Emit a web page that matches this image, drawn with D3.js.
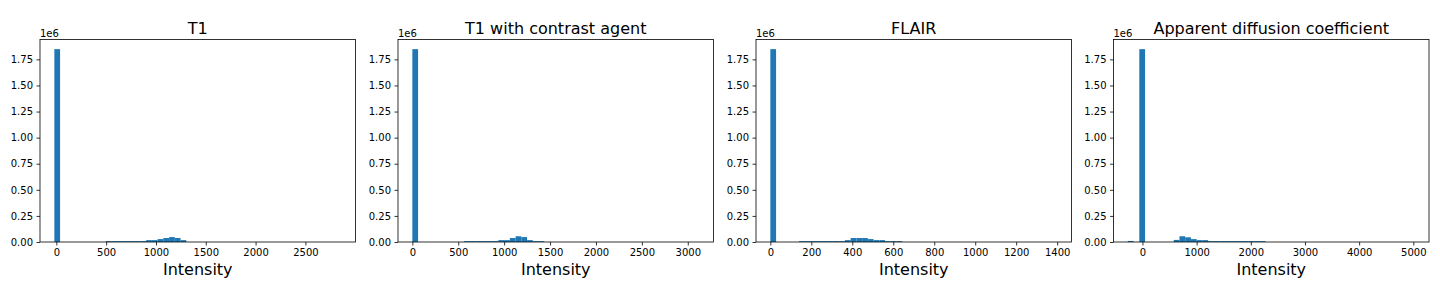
<!DOCTYPE html>
<html>
<head>
<meta charset="utf-8">
<script src="https://cdn.jsdelivr.net/npm/d3@7"></script>
<style>
  body { margin: 0; background: #fff; }
  text { font-family: "DejaVu Sans", sans-serif; fill: #000; }
</style>
</head>
<body>
<div id="container"></div>
<script>
// window size
let cwW = 1440;
let cwH = 288;

// panel titles
const titles = ["T1", "T1 with contrast agent", "FLAIR", "Apparent diffusion coefficient"];

// min / max intensity of each image (histograms use 50 bins over this range)
const dataRanges = [[-20, 2859], [0, 3124], [0, 1400], [-270, 5025]];
const binCount = 50;

// non-empty bins: bin index and count (in 1e6 voxels)
const t1Bins    = [0, 9, 10, 11, 12, 13, 14, 15, 16, 17, 18, 19, 20, 21, 22];
const t1Counts  = [1.848, 0.008, 0.008, 0.008, 0.008, 0.008, 0.008, 0.008, 0.018, 0.018, 0.028, 0.038, 0.047, 0.038, 0.018];

const t1cBins   = [0, 9, 10, 11, 12, 13, 14, 15, 16, 17, 18, 19, 20, 21, 22];
const t1cCounts = [1.848, 0.008, 0.008, 0.008, 0.008, 0.008, 0.008, 0.018, 0.018, 0.038, 0.055, 0.047, 0.018, 0.008, 0.008];

const flairBins   = [0, 5, 6, 7, 8, 9, 10, 11, 12, 13, 14, 15, 16, 17, 18, 19, 20, 21, 22];
const flairCounts = [1.848, 0.008, 0.008, 0.008, 0.008, 0.008, 0.008, 0.008, 0.008, 0.018, 0.038, 0.038, 0.038, 0.028, 0.018, 0.018, 0.008, 0.008, 0.008];

const adcBins   = [0, 2, 8, 9, 10, 11, 12, 13, 14, 15, 16, 17, 18, 19, 20, 21, 22, 23];
const adcCounts = [0.010, 1.848, 0.020, 0.055, 0.045, 0.028, 0.018, 0.018, 0.008, 0.008, 0.008, 0.008, 0.008, 0.008, 0.008, 0.008, 0.008, 0.008];

// tick labels
const xTicks = [
  [0, 500, 1000, 1500, 2000, 2500],
  [0, 500, 1000, 1500, 2000, 2500, 3000],
  [0, 200, 400, 600, 800, 1000, 1200, 1400],
  [0, 1000, 2000, 3000, 4000, 5000]
];
const yTicks = [0, 0.25, 0.5, 0.75, 1.0, 1.25, 1.5, 1.75];

const binSets = [t1Bins, t1cBins, flairBins, adcBins];
const countSets = [t1Counts, t1cCounts, flairCounts, adcCounts];

// layout
const panelLeft = [40, 398, 756, 1113.5];
const panelW = 315.5;
const panelTop = 39.5;
const panelH = 202.5;
const barColor = "#1f77b4";

let svgArea = d3.select("#container")
  .append("svg")
  .attr("width", cwW)
  .attr("height", cwH);

const yMax = d3.max(countSets, c => d3.max(c)) * 1.05;

/**************************
* Draw one histogram
**************************/
function drawPanel(p) {
  let [lo, hi] = dataRanges[p];
  let binW = (hi - lo) / binCount;
  let pad = (hi - lo) * 0.05;

  let g = svgArea.append("g")
    .attr("transform", "translate(" + panelLeft[p] + "," + panelTop + ")");

  let x = d3.scaleLinear().domain([lo - pad, hi + pad]).range([0, panelW]);
  let y = d3.scaleLinear().domain([0, yMax]).range([panelH, 0]);

  let bars = binSets[p].map((b, i) => ({x0: lo + b * binW, x1: lo + (b + 1) * binW, n: countSets[p][i]}));

  g.selectAll("rect.bar")
    .data(bars)
    .enter()
    .append("rect")
    .attr("class", "bar")
    .attr("x", d => x(d.x0))
    .attr("width", d => x(d.x1) - x(d.x0))
    .attr("y", d => y(d.n))
    .attr("height", d => y(0) - y(d.n))
    .attr("fill", barColor);

  // axes
  let xAxis = d3.axisBottom(x).tickValues(xTicks[p]).tickFormat(d3.format("d"))
    .tickSizeInner(3.5).tickSizeOuter(0).tickPadding(3.5);
  let yAxis = d3.axisLeft(y).tickValues(yTicks).tickFormat(d3.format(".2f"))
    .tickSizeInner(3.5).tickSizeOuter(0).tickPadding(3.5);

  let gx = g.append("g").attr("transform", "translate(0," + panelH + ")").call(xAxis);
  let gy = g.append("g").call(yAxis);
  [gx, gy].forEach(a => {
    a.select(".domain").remove();
    a.selectAll(".tick line").attr("stroke", "#000").attr("stroke-width", 0.8);
    a.selectAll(".tick text").attr("font-size", 10).attr("font-family", "DejaVu Sans");
  });

  // frame
  g.append("rect")
    .attr("width", panelW)
    .attr("height", panelH)
    .attr("fill", "none")
    .attr("stroke", "#000")
    .attr("stroke-width", 0.8);

  // offset text
  g.append("text")
    .attr("x", 0)
    .attr("y", -3)
    .attr("font-size", 10)
    .text("1e6");

  // title
  g.append("text")
    .attr("x", panelW / 2)
    .attr("y", -6)
    .attr("text-anchor", "middle")
    .attr("font-size", 16)
    .text(titles[p]);

  // x label
  g.append("text")
    .attr("x", panelW / 2)
    .attr("y", panelH + 33)
    .attr("text-anchor", "middle")
    .attr("font-size", 16)
    .text("Intensity");
}

titles.forEach((t, p) => drawPanel(p));
</script>
</body>
</html>
